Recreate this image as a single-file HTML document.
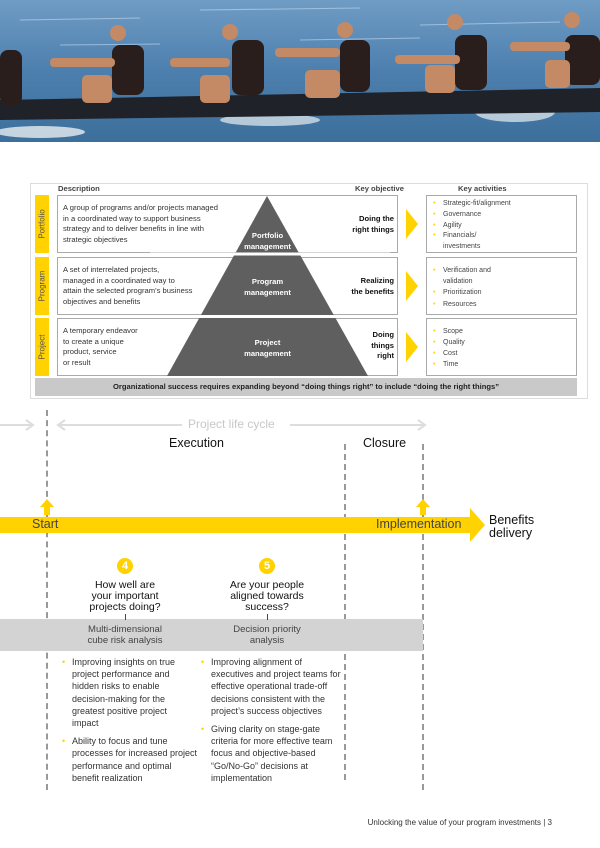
<!DOCTYPE html>
<html><head><meta charset="utf-8"><style>
*{margin:0;padding:0;box-sizing:border-box}
body{width:600px;height:848px;position:relative;background:#fff;font-family:"Liberation Sans",sans-serif;color:#333;overflow:hidden}
.a{position:absolute}
.t8{font-size:7.6px;line-height:10.5px;color:#333}
.b{font-weight:bold;color:#111}
.tab{position:absolute;left:35px;width:14px;background:#ffd200}
.tab span{position:absolute;left:50%;top:50%;transform:translate(-50%,-50%) rotate(-90deg);font-size:8px;color:#555;white-space:nowrap}
.box{position:absolute;border:1px solid #aaa;background:#fff}
.act{position:absolute;left:426px;width:151px;border:1px solid #aaa;padding-left:16px;font-size:7px;line-height:10.5px;color:#444}
.act div{position:relative}
.act div:before{content:"•";color:#ffd200;position:absolute;left:-10px}
.chev{position:absolute;left:406px;width:0;height:0;border-top:15px solid transparent;border-bottom:15px solid transparent;border-left:12px solid #ffd200}
.dash{position:absolute;width:0;border-left:2px dashed #999}
.bl{position:absolute;font-size:9px;line-height:12.2px;color:#333;white-space:nowrap}
.bl div{position:relative;margin-bottom:6px}
.bl div:before{content:"•";color:#ffd200;position:absolute;left:-10px}
</style></head><body>
<svg class="a" style="left:0;top:0" width="600" height="142">
<defs><linearGradient id="w" x1="0" y1="0" x2="0" y2="1"><stop offset="0" stop-color="#6f9cc4"/><stop offset=".5" stop-color="#4d7fae"/><stop offset="1" stop-color="#3d6f9c"/></linearGradient></defs>
<rect width="600" height="142" fill="url(#w)"/>
<g stroke="#c6dcef" stroke-width="1" opacity=".6"><line x1="20" y1="20" x2="140" y2="18"/><line x1="200" y1="10" x2="360" y2="8"/><line x1="420" y1="25" x2="560" y2="22"/><line x1="60" y1="45" x2="160" y2="44"/><line x1="300" y1="40" x2="420" y2="38"/></g>
<ellipse cx="40" cy="132" rx="45" ry="6" fill="#e8eef0" opacity=".8"/><ellipse cx="270" cy="120" rx="50" ry="6" fill="#e8eef0" opacity=".7"/><ellipse cx="515" cy="112" rx="40" ry="10" fill="#e8eef0" opacity=".7"/>
<path d="M0 100 L600 88 L600 112 L0 120 Z" fill="#1f2228"/>
<g fill="#2a1e1c"><rect x="0" y="50" width="22" height="55" rx="8"/><rect x="112" y="45" width="32" height="50" rx="8"/><rect x="232" y="40" width="32" height="55" rx="8"/><rect x="340" y="40" width="30" height="52" rx="8"/><rect x="455" y="35" width="32" height="55" rx="8"/><rect x="565" y="35" width="35" height="50" rx="8"/></g>
<g fill="#c48a66"><circle cx="118" cy="33" r="8"/><circle cx="230" cy="32" r="8"/><circle cx="345" cy="30" r="8"/><circle cx="455" cy="22" r="8"/><circle cx="572" cy="20" r="8"/>
<rect x="50" y="58" width="65" height="9" rx="4"/><rect x="170" y="58" width="60" height="9" rx="4"/><rect x="275" y="48" width="65" height="9" rx="4"/><rect x="395" y="55" width="65" height="9" rx="4"/><rect x="510" y="42" width="60" height="9" rx="4"/>
<rect x="82" y="75" width="30" height="28" rx="5"/><rect x="200" y="75" width="30" height="28" rx="5"/><rect x="305" y="70" width="35" height="28" rx="5"/><rect x="425" y="65" width="30" height="28" rx="5"/><rect x="545" y="60" width="25" height="28" rx="5"/></g>
</svg>
<div class="a" style="left:30px;top:183px;width:558px;height:216px;border:1px solid #ddd"></div>
<div class="a t8 b" style="left:58px;top:184px;color:#444">Description</div>
<div class="a t8 b" style="left:355px;top:184px;color:#444">Key objective</div>
<div class="a t8 b" style="left:458px;top:184px;color:#444">Key activities</div>
<div class="tab" style="top:195px;height:58px"><span>Portfolio</span></div>
<div class="tab" style="top:257px;height:58px"><span>Program</span></div>
<div class="tab" style="top:318px;height:58px"><span>Project</span></div>
<div class="box" style="left:57px;top:195px;width:341px;height:58px"></div>
<div class="box" style="left:57px;top:257px;width:341px;height:58px"></div>
<div class="box" style="left:57px;top:318px;width:341px;height:58px"></div>
<svg class="a" style="left:0;top:0" width="600" height="400"><polygon points="267,196 167,376 368,376" fill="#5f5f5f"/><line x1="150" y1="254" x2="390" y2="254" stroke="#fff" stroke-width="3"/><line x1="150" y1="316.5" x2="390" y2="316.5" stroke="#fff" stroke-width="3"/></svg>
<div class="a t8" style="left:63px;top:203px">A group of programs and/or projects managed<br>in a coordinated way to support business<br>strategy and to deliver benefits in line with<br>strategic objectives</div>
<div class="a t8" style="left:63px;top:265px">A set of interrelated projects,<br>managed in a coordinated way to<br>attain the selected program’s business<br>objectives and benefits</div>
<div class="a t8" style="left:63px;top:326px">A temporary endeavor<br>to create a unique<br>product, service<br>or result</div>
<div class="a t8 b" style="left:240px;top:231px;width:55px;text-align:center;color:#fff">Portfolio<br>management</div>
<div class="a t8 b" style="left:240px;top:277px;width:55px;text-align:center;color:#fff">Program<br>management</div>
<div class="a t8 b" style="left:240px;top:338px;width:55px;text-align:center;color:#fff">Project<br>management</div>
<div class="a t8 b" style="left:340px;top:214px;width:54px;text-align:right">Doing the<br>right things</div>
<div class="a t8 b" style="left:340px;top:276px;width:54px;text-align:right">Realizing<br>the benefits</div>
<div class="a t8 b" style="left:340px;top:330px;width:54px;text-align:right">Doing<br>things<br>right</div>
<div class="chev" style="top:209px"></div><div class="chev" style="top:271px"></div><div class="chev" style="top:332px"></div>
<div class="act" style="top:195px;height:58px;padding-top:3px;line-height:10.8px"><div>Strategic-fit/alignment</div><div>Governance</div><div>Agility</div><div>Financials/<br>investments</div></div>
<div class="act" style="top:257px;height:58px;padding-top:8px"><div>Verification and<br>validation</div><div style="margin-top:1px">Prioritization</div><div style="margin-top:1px">Resources</div></div>
<div class="act" style="top:318px;height:58px;padding-top:7px;line-height:11px"><div>Scope</div><div>Quality</div><div>Cost</div><div>Time</div></div>
<div class="a t8 b" style="left:35px;top:378px;width:542px;height:18px;background:#c9c9c9;text-align:center;line-height:18px;color:#222">Organizational success requires expanding beyond “doing things right” to include “doing the right things”</div>

<svg class="a" style="left:0;top:410px" width="600" height="30"><g stroke="#ddd" stroke-width="2" fill="none"><line x1="0" y1="15" x2="32" y2="15"/><polyline points="26,10 33,15 26,20"/><line x1="58" y1="15" x2="182" y2="15"/><polyline points="65,10 58,15 65,20"/><line x1="290" y1="15" x2="425" y2="15"/><polyline points="418,10 425,15 418,20"/></g></svg>
<div class="a" style="left:188px;top:417px;font-size:12px;color:#c8c8c8">Project life cycle</div>
<div class="a" style="left:169px;top:436px;font-size:12.5px;color:#111">Execution</div>
<div class="a" style="left:363px;top:436px;font-size:12.5px;color:#111">Closure</div>
<div class="dash" style="left:46px;top:410px;height:380px"></div>
<div class="dash" style="left:344px;top:444px;height:336px"></div>
<div class="dash" style="left:422px;top:444px;height:346px"></div>
<div class="a" style="left:0;top:619px;width:423px;height:32px;background:#d3d3d3"></div>
<svg class="a" style="left:0;top:495px" width="600" height="50"><g fill="#ffd200"><polygon points="47,4 40,12 44,12 44,20 50,20 50,12 54,12"/><polygon points="423,4 416,12 420,12 420,20 426,20 426,12 430,12"/><rect x="0" y="22" width="472" height="16"/><polygon points="470,13 485,30 470,47"/></g></svg>
<div class="a" style="left:32px;top:517px;font-size:12.5px;color:#444">Start</div>
<div class="a" style="left:376px;top:517px;font-size:12.5px;color:#444">Implementation</div>
<div class="a" style="left:489px;top:514px;font-size:12.5px;line-height:12.5px;color:#111">Benefits<br>delivery</div>
<div class="a" style="left:117px;top:558px;width:16px;height:16px;border-radius:50%;background:#ffd200;color:#fff;font-size:11px;font-weight:bold;text-align:center;line-height:16px">4</div>
<div class="a" style="left:259px;top:558px;width:16px;height:16px;border-radius:50%;background:#ffd200;color:#fff;font-size:11px;font-weight:bold;text-align:center;line-height:16px">5</div>
<div class="a" style="left:65px;top:580px;width:120px;text-align:center;font-size:10.5px;line-height:11px;color:#111">How well are<br>your important<br>projects doing?</div>
<div class="a" style="left:207px;top:580px;width:120px;text-align:center;font-size:10.5px;line-height:11px;color:#111">Are your people<br>aligned towards<br>success?</div>
<div class="a" style="left:125px;top:614px;width:1px;height:6px;background:#444"></div>
<div class="a" style="left:267px;top:614px;width:1px;height:6px;background:#444"></div>
<div class="a" style="left:65px;top:624px;width:120px;text-align:center;font-size:9.5px;line-height:11px;color:#444">Multi-dimensional<br>cube risk analysis</div>
<div class="a" style="left:207px;top:624px;width:120px;text-align:center;font-size:9.5px;line-height:11px;color:#444">Decision priority<br>analysis</div>
<div class="bl" style="left:72px;top:656px"><div>Improving insights on true<br>project performance and<br>hidden risks to enable<br>decision-making for the<br>greatest positive project<br>impact</div><div>Ability to focus and tune<br>processes for increased project<br>performance and optimal<br>benefit realization</div></div>
<div class="bl" style="left:211px;top:656px"><div>Improving alignment of<br>executives and project teams for<br>effective operational trade-off<br>decisions consistent with the<br>project’s success objectives</div><div>Giving clarity on stage-gate<br>criteria for more effective team<br>focus and objective-based<br>“Go/No-Go” decisions at<br>implementation</div></div>
<div class="a" style="left:300px;top:818px;width:252px;text-align:right;font-size:8px;color:#333">Unlocking the value of your program investments | 3</div>
</body></html>
